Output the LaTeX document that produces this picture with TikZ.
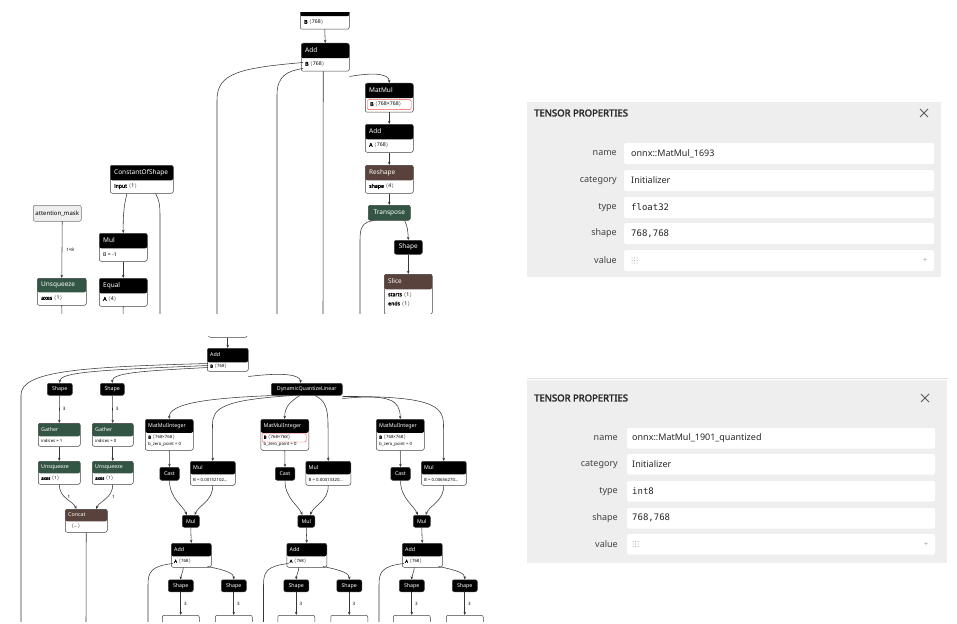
\documentclass[tikz,border=0pt]{standalone}
\usepackage{fontspec}
\setmainfont{Noto Sans}[BoldFont={Noto Sans}, BoldFeatures={FakeBold=2.5}]
\setmonofont{DejaVu Sans Mono}
\usetikzlibrary{arrows.meta,calc}

\definecolor{nbrown}{RGB}{89,66,59}
\definecolor{ngreen}{RGB}{51,85,68}
\definecolor{nline}{RGB}{55,55,55}
\definecolor{panelbg}{RGB}{238,238,238}

\tikzset{
  op/.style 2 args={draw=black!75, fill=white, rounded corners=2pt, inner sep=0pt, line width=0.5pt, anchor=north west,
    path picture={\fill[#1] (path picture bounding box.north west) rectangle ([yshift=-#2]path picture bounding box.north east);}},
  flat/.style={draw=black!75, fill=#1, rounded corners=2pt, inner sep=0pt, line width=0.5pt, anchor=north west, text=white, font=\fontsize{6.5}{7}\selectfont},
  sflat/.style={flat=#1, font=\fontsize{5.3}{6}\selectfont},
  ttl/.style={text=white, anchor=west, inner sep=0pt, font=\fontsize{6.5}{7}\selectfont},
  att/.style={text=black, anchor=west, inner sep=0pt, font=\fontsize{5.2}{6}\selectfont},
  sttl/.style={ttl, font=\fontsize{5.3}{6}\selectfont},
  satt/.style={att, font=\fontsize{4.3}{5}\selectfont},
  edge/.style={draw=nline, line width=0.55pt, -{Stealth[length=3.2pt,width=2.6pt]}},
  wire/.style={draw=nline, line width=0.55pt},
  elab/.style={font=\fontsize{4.5}{5}\selectfont, inner sep=0pt, anchor=west},
  plab/.style={font=\fontsize{9}{10}\selectfont, text=black!75, anchor=east, inner sep=0pt},
  pval/.style={font=\fontsize{9}{10}\selectfont, text=black!85, anchor=west, inner sep=0pt},
}

\begin{document}
\begin{tikzpicture}[x=1pt,y=-1pt]
  \useasboundingbox (0,0) rectangle (957,623);

  % Grafo superior
  \begin{scope}
  \clip (0,13) rectangle (500,313);
  \node[op={black}{11}, minimum width=49, minimum height=24] (prevT) at (300,5) {};
  \node[att] at ([shift={(4,17.5)}]prevT.north west) {\textbf{B} $\langle$768$\rangle$};

  \node[op={black}{15}, minimum width=48, minimum height=28] (addT) at (301,43) {};
  \node[ttl] at ([shift={(4,7.5)}]addT.north west) {Add};
  \node[att] at ([shift={(4,21.5)}]addT.north west) {\textbf{B} $\langle$768$\rangle$};

  \node[op={black}{15}, minimum width=48, minimum height=29] (matmulT) at (365,83) {};
  \node[ttl] at ([shift={(4,7.5)}]matmulT.north west) {MatMul};
  \node[draw=red!70, fill=white, rounded corners=1.5pt, inner sep=0pt, minimum width=44, minimum height=10, anchor=north west] (selT) at (367,99.5) {};
  \node[att] at ([xshift=3]selT.west) {\textbf{B} $\langle$768×768$\rangle$};

  \node[op={black}{15}, minimum width=48, minimum height=28] (add2T) at (365,124) {};
  \node[ttl] at ([shift={(4,7.5)}]add2T.north west) {Add};
  \node[att] at ([shift={(4,21.5)}]add2T.north west) {\textbf{A} $\langle$768$\rangle$};

  \node[op={nbrown}{15}, minimum width=48, minimum height=28] (reshapeT) at (365,165) {};
  \node[ttl] at ([shift={(4,7.5)}]reshapeT.north west) {Reshape};
  \node[att] at ([shift={(4,21.5)}]reshapeT.north west) {\textbf{shape} $\langle$4$\rangle$};

  \node[flat=ngreen, minimum width=42, minimum height=15] (transposeT) at (368,205) {Transpose};
  \node[flat=black, minimum width=28, minimum height=14] (shapeT) at (394,240) {Shape};

  \node[op={nbrown}{15}, minimum width=48, minimum height=40] (sliceT) at (384,274) {};
  \node[ttl] at ([shift={(4,7.5)}]sliceT.north west) {Slice};
  \node[att] at ([shift={(4,21)}]sliceT.north west) {\textbf{starts} $\langle$1$\rangle$};
  \node[att] at ([shift={(4,30)}]sliceT.north west) {\textbf{ends} $\langle$1$\rangle$};

  \node[op={black}{15}, minimum width=63, minimum height=28] (constT) at (110,165) {};
  \node[ttl] at ([shift={(4,7.5)}]constT.north west) {ConstantOfShape};
  \node[att] at ([shift={(4,21.5)}]constT.north west) {\textbf{input} $\langle$1$\rangle$};

  \node[draw=black!55, fill=panelbg, rounded corners=2pt, inner sep=0pt, line width=0.5pt, anchor=north west,
        minimum width=48, minimum height=16, font=\fontsize{6}{7}\selectfont] (maskT) at (33,205) {attention\_mask};

  \node[op={ngreen}{14}, minimum width=49, minimum height=27] (unsqT) at (37,278) {};
  \node[ttl] at ([shift={(4,7)}]unsqT.north west) {Unsqueeze};
  \node[att] at ([shift={(4,20.5)}]unsqT.north west) {\textbf{axes} $\langle$1$\rangle$};

  \node[op={black}{15}, minimum width=48, minimum height=28] (mulT) at (99,233) {};
  \node[ttl] at ([shift={(4,7.5)}]mulT.north west) {Mul};
  \node[att] at ([shift={(4,21.5)}]mulT.north west) {B = -1};

  \node[op={black}{15}, minimum width=48, minimum height=28] (equalT) at (99,278) {};
  \node[ttl] at ([shift={(4,7.5)}]equalT.north west) {Equal};
  \node[att] at ([shift={(4,21.5)}]equalT.north west) {\textbf{A} $\langle$4$\rangle$};

  \coordinate (eA) at (217,320);
  \coordinate (eB) at (277,320);
  \coordinate (eC) at (323,320);
  \coordinate (eD) at (360,320);
  \coordinate (eE) at (408,320);
  \coordinate (eF) at (62,320);
  \coordinate (eG) at (123,320);
  \coordinate (eH) at (160,320);

  \draw[edge] (prevT.south) -- (addT.north);
  \draw[wire] ([shift={(2,-9)}]addT.south west) .. controls (240,68) and (217,73) .. (217,100) -- (eA);
  \draw[wire] ([shift={(2,-3)}]addT.south west) .. controls (287,71) and (277,76) .. (277,95) -- (eB);
  \draw[wire] ([xshift=-2]addT.south) -- (eC);
  \draw[edge] ([yshift=-5]addT.south east) .. controls (375,72) and (389,74) .. (matmulT.north);
  \draw[edge] (matmulT.south) -- (add2T.north);
  \draw[edge] (add2T.south) -- (reshapeT.north);
  \draw[edge] (reshapeT.south) -- (transposeT.north);
  \draw[wire] ([xshift=6]transposeT.south west) .. controls (362,222) and (360,228) .. (360,240) -- (eD);
  \draw[edge] ([xshift=-6]transposeT.south east) .. controls (407,225) and (408,230) .. (shapeT.north);
  \draw[edge] (shapeT.south) -- (sliceT.north);
  \draw[wire] (sliceT.south) -- (eE);
  \draw[edge] ([xshift=5]maskT.south) -- node[elab, xshift=4pt] {1×8} (unsqT.north);
  \draw[wire] (unsqT.south) -- (eF);
  \draw[edge] ([xshift=17]constT.south west) .. controls (124,205) and (123,215) .. (mulT.north);
  \draw[wire] ([xshift=-18]constT.south east) .. controls (159,199) and (160,205) .. (160,215) -- (eH);
  \draw[edge] (mulT.south) -- (equalT.north);
  \draw[wire] (equalT.south) -- (eG);
  \end{scope}

  % Grafo inferior
  \begin{scope}
  \clip (0,336) rectangle (500,621);
  \node[op={black}{5}, minimum width=39, minimum height=17] (prevB) at (208,320) {};

  \node[op={black}{14}, minimum width=41, minimum height=23] (addB) at (207,348) {};
  \node[sttl] at ([shift={(3,7)}]addB.north west) {Add};
  \node[satt] at ([shift={(3,18.5)}]addB.north west) {\textbf{B} $\langle$768$\rangle$};

  \node[sflat=black, minimum width=25, minimum height=12] (shapeB1) at (47,383) {Shape};
  \node[sflat=black, minimum width=24, minimum height=12] (shapeB2) at (100,383) {Shape};

  \node[op={ngreen}{13}, minimum width=42, minimum height=23] (gatherB1) at (38,423) {};
  \node[sttl] at ([shift={(3,6.5)}]gatherB1.north west) {Gather};
  \node[satt] at ([shift={(3,18)}]gatherB1.north west) {indices = 1};
  \node[op={ngreen}{13}, minimum width=41, minimum height=23] (gatherB2) at (92,423) {};
  \node[sttl] at ([shift={(3,6.5)}]gatherB2.north west) {Gather};
  \node[satt] at ([shift={(3,18)}]gatherB2.north west) {indices = 0};

  \node[op={ngreen}{12}, minimum width=42, minimum height=23] (unsqB1) at (38,461) {};
  \node[sttl] at ([shift={(3,6)}]unsqB1.north west) {Unsqueeze};
  \node[satt] at ([shift={(3,17.5)}]unsqB1.north west) {\textbf{axes} $\langle$1$\rangle$};
  \node[op={ngreen}{12}, minimum width=41, minimum height=23] (unsqB2) at (92,461) {};
  \node[sttl] at ([shift={(3,6)}]unsqB2.north west) {Unsqueeze};
  \node[satt] at ([shift={(3,17.5)}]unsqB2.north west) {\textbf{axes} $\langle$1$\rangle$};

  \node[op={nbrown}{12}, minimum width=42, minimum height=23] (concatB) at (65,509) {};
  \node[sttl] at ([shift={(3,6)}]concatB.north west) {Concat};
  \node[satt] at ([shift={(6,17.5)}]concatB.north west) {$\langle$\ldots$\rangle$};

  \node[sflat=black, minimum width=71, minimum height=12] (dqlB) at (271,383) {DynamicQuantizeLinear};

  \foreach \i/\val in {0/0.00152102\ldots, 1/0.00413320\ldots, 2/0.00656270\ldots} {
    \begin{scope}[xshift={115.5*\i}]
    \node[op={black}{13.5}, minimum width=48, minimum height=31] (mmi\i) at (145,419) {};
    \node[sttl] at ([shift={(3,7)}]mmi\i.north west) {MatMulInteger};
    \ifnum\i=1
      \node[draw=red!70, fill=white, rounded corners=1.2pt, inner sep=0pt, minimum width=44, minimum height=8.5, anchor=north west] at ([shift={(1.5,14.3)}]mmi\i.north west) {};
    \fi
    \node[satt] at ([shift={(3,18.5)}]mmi\i.north west) {\textbf{B} $\langle$768×768$\rangle$};
    \node[satt] at ([shift={(3,25.5)}]mmi\i.north west) {b\_zero\_point = 0};

    \node[sflat=black, minimum width=19.5, minimum height=13] (cast\i) at (159.5,467) {Cast};
    \node[op={black}{13}, minimum width=45, minimum height=24] (mulA\i) at (190,461) {};
    \node[sttl] at ([shift={(3,6.5)}]mulA\i.north west) {Mul};
    \node[satt] at ([shift={(3,18.5)}]mulA\i.north west) {B = \val};

    \node[sflat=black, minimum width=17, minimum height=12] (mulS\i) at (182,515) {Mul};
    \node[op={black}{13}, minimum width=40, minimum height=24] (addC\i) at (171,543) {};
    \node[sttl] at ([shift={(3,6.5)}]addC\i.north west) {Add};
    \node[satt] at ([shift={(3,18.5)}]addC\i.north west) {\textbf{A} $\langle$768$\rangle$};

    \node[sflat=black, minimum width=25, minimum height=12] (shCa\i) at (168,579.5) {Shape};
    \node[sflat=black, minimum width=25, minimum height=12] (shCb\i) at (221,579.5) {Shape};
    \node[op={white}{1}, minimum width=37, minimum height=20] (nxa\i) at (162,615) {};
    \node[op={white}{1}, minimum width=37, minimum height=20] (nxb\i) at (215,615) {};
    \coordinate (lo\i) at (148,625);

    \draw[edge] (mmi\i.south) -- (cast\i.north);
    \draw[edge] (cast\i.south) .. controls +(0,18) and +(-4,-10) .. ([xshift=-4]mulS\i.north);
    \draw[edge] (mulA\i.south) .. controls +(0,16) and +(4,-10) .. ([xshift=4]mulS\i.north);
    \draw[edge] (mulS\i.south) -- (addC\i.north);
    \draw[wire] ([shift={(2,-4)}]addC\i.south west) .. controls (151,566) and (148,572) .. (148,585) -- (lo\i);
    \draw[edge] ([xshift=-8]addC\i.south) .. controls +(0,5) and +(0,-5) .. (shCa\i.north);
    \draw[edge] ([shift={(-4,-1)}]addC\i.south east) .. controls +(20,4) and +(0,-6) .. (shCb\i.north);
    \draw[edge] (shCa\i.south) -- node[elab, xshift=3pt] {3} (nxa\i.north);
    \draw[edge] (shCb\i.south) -- node[elab, xshift=3pt] {3} (nxb\i.north);
    \end{scope}
  }

  \coordinate (fA) at (21,625);
  \coordinate (fB) at (86,625);

  \draw[edge] (prevB.south) -- (addB.north);
  \draw[wire] ([shift={(1,-8)}]addB.south west) .. controls (80,367) and (21,371) .. (21,395) -- (fA);
  \draw[edge] ([shift={(1,-6)}]addB.south west) .. controls (100,370) and (60,372) .. (shapeB1.north);
  \draw[edge] ([shift={(1,-4)}]addB.south west) .. controls (140,371) and (112,373) .. (shapeB2.north);
  \draw[edge] ([yshift=-5]addB.south east) .. controls (285,372) and (300,375) .. ([xshift=-6]dqlB.north);
  \draw[edge] (shapeB1.south) -- node[elab, xshift=3pt] {3} (gatherB1.north);
  \draw[edge] (shapeB2.south) -- node[elab, xshift=3pt] {3} (gatherB2.north);
  \draw[edge] (gatherB1.south) -- (unsqB1.north);
  \draw[edge] (gatherB2.south) -- (unsqB2.north);
  \draw[edge] (unsqB1.south) .. controls +(0,14) and +(-3,-8) .. node[elab, pos=0.4, xshift=3pt] {1} ([xshift=-10]concatB.north);
  \draw[edge] (unsqB2.south) .. controls +(0,14) and +(3,-8) .. node[elab, pos=0.4, xshift=4pt] {1} ([xshift=10]concatB.north);
  \draw[wire] (concatB.south) -- (fB);

  \draw[edge] ([xshift=2]dqlB.south west) .. controls (210,398) and (169,403) .. (mmi0.north);
  \draw[edge] ([xshift=22]dqlB.south west) .. controls (222,400) and (212.5,408) .. (212.5,425) -- (mulA0.north);
  \draw[edge] ([xshift=-7]dqlB.south) .. controls (290,402) and (284.5,407) .. (mmi1.north);
  \draw[edge] ([xshift=8]dqlB.south) .. controls (325,400) and (328,408) .. (328,425) -- (mulA1.north);
  \draw[edge] ([yshift=-3]dqlB.south east) .. controls (390,394) and (400,400) .. (mmi2.north);
  \draw[edge] ([yshift=-1]dqlB.south east) .. controls (430,396) and (443.5,405) .. (443.5,425) -- (mulA2.north);
  \end{scope}

  % Painéis
  \fill[panelbg] (527,102) rectangle (941,277);
  \node[font=\bfseries\fontsize{9.5}{11}\selectfont, text=black!85, anchor=west, inner sep=0pt] at (534,113) {TENSOR PROPERTIES};
  \draw[black!65, line width=0.8pt] (920,109) -- (928,117) (920,117) -- (928,109);
  \foreach \lab/\y in {name/143, category/170, type/197, shape/223, value/250} {
    \fill[white, rounded corners=1.5pt] (624,\y) rectangle (934,\y+21);
    \node[plab] at (617,\y+10.5) {\lab};
  }
  \node[pval] at (631,153.5) {onnx::MatMul\_1693};
  \node[pval] at (631,180.5) {Initializer};
  \node[pval] at (631,207.5) {\texttt{float32}};
  \node[pval] at (631,233.5) {\texttt{768,768}};
  \foreach \a in {0,1,2} \foreach \b in {0,1,2} \fill[black!40] (632+2.5*\a,258+2.5*\b) circle (0.5);
  \node[font=\fontsize{7}{8}\selectfont, text=black!40, inner sep=0pt] at (925,260.5) {+};

  \draw[black!12] (527,378) -- (948,378);
  \fill[panelbg] (527,380) rectangle (947,563);
  \node[font=\bfseries\fontsize{9.5}{11}\selectfont, text=black!85, anchor=west, inner sep=0pt] at (534,398) {TENSOR PROPERTIES};
  \draw[black!65, line width=0.8pt] (921,394) -- (929,402) (921,402) -- (929,394);
  \foreach \lab/\y in {name/428, category/454, type/481, shape/508, value/534} {
    \fill[white, rounded corners=1.5pt] (627,\y) rectangle (935,\y+20.5);
    \node[plab] at (618,\y+10.25) {\lab};
  }
  \node[pval] at (632,438.25) {onnx::MatMul\_1901\_quantized};
  \node[pval] at (632,464.25) {Initializer};
  \node[pval] at (632,491.25) {\texttt{int8}};
  \node[pval] at (632,518.25) {\texttt{768,768}};
  \foreach \a in {0,1,2} \foreach \b in {0,1,2} \fill[black!40] (633+2.5*\a,541.5+2.5*\b) circle (0.5);
  \node[font=\fontsize{7}{8}\selectfont, text=black!40, inner sep=0pt] at (926,544) {+};
\end{tikzpicture}
\end{document}
